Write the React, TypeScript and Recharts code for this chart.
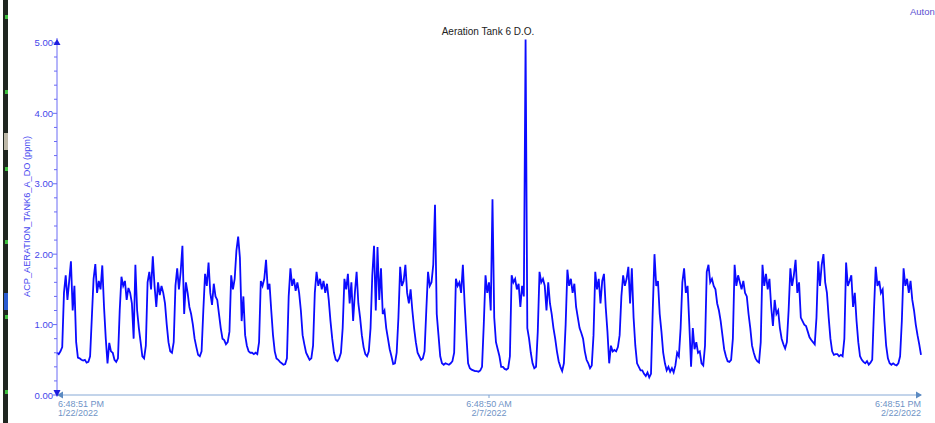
import React from "react";
import { LineChart, Line, XAxis, YAxis } from "recharts";

// dissolved oxygen, one reading every 1.5 h from 1/22/2022 6:48:51 PM
const week1 = [
  0.6, 0.58, 0.62, 0.68, 1.45, 1.7, 1.35, 1.62, 1.9, 1.2, 1.55, 0.75, 0.53, 0.52, 0.5, 0.49,
  0.5, 0.46, 0.47, 0.55, 1.1, 1.65, 1.86, 1.45, 1.62, 1.5, 1.84, 1.25, 0.8, 0.45, 0.74, 0.62,
  0.6, 0.5, 0.47, 0.52, 1.2, 1.68, 1.55, 1.62, 1.35, 1.52, 1.45, 1.3, 0.8, 1.85, 1.2, 0.95,
  0.75, 0.55, 0.52, 0.7, 1.6, 1.75, 1.5, 1.97, 1.55, 1.25, 1.6, 1.42, 1.55, 1.45, 1.3, 1.0,
  0.75, 0.62, 0.6, 0.75, 1.55, 1.8, 1.5, 1.75, 2.12, 1.15, 1.6, 1.45, 1.25, 1.15, 1.0, 0.8,
  0.68, 0.57, 0.55, 0.62, 1.2, 1.72, 1.55, 1.88, 1.45, 1.28, 1.58, 1.4, 1.35, 1.15, 0.95, 0.8,
  0.78, 0.72, 0.75, 0.9, 1.7, 1.5, 1.65, 2.05, 2.25, 1.95, 1.05, 1.4, 0.85, 0.7, 0.62, 0.6,
];
const week2 = [
  0.6, 0.58, 0.6, 0.58, 0.75, 1.62, 1.55, 1.65, 1.92, 1.5, 1.58, 1.2, 0.85, 0.62, 0.52, 0.5,
  0.47, 0.45, 0.43, 0.44, 0.52, 1.4, 1.8, 1.55, 1.65, 1.48, 1.6, 1.45, 1.2, 0.85, 0.72, 0.6,
  0.55, 0.5, 0.52, 0.7, 1.45, 1.75, 1.55, 1.65, 1.5, 1.62, 1.45, 1.58, 1.35, 1.05, 0.8, 0.6,
  0.5, 0.48, 0.52, 0.6, 0.95, 1.65, 1.5, 1.72, 1.3, 1.6, 1.05, 1.45, 1.75, 1.3, 1.1, 0.85,
  0.68, 0.58, 0.55, 0.62, 0.95, 1.7, 2.12, 1.2, 2.1, 1.35, 1.8, 1.15, 1.2, 0.95, 0.8, 0.65,
  0.55, 0.44, 0.45, 0.6, 1.1, 1.82, 1.55, 1.62, 1.85, 1.45, 1.3, 1.5, 1.2, 0.95, 0.75, 0.6,
  0.55, 0.5, 0.52, 0.62, 1.2, 1.75, 1.55, 1.6, 1.85, 2.7, 1.15, 0.85, 0.55, 0.45, 0.43, 0.45,
];
const week3 = [
  0.44, 0.43, 0.45, 0.48, 0.6, 1.65, 1.55, 1.6, 1.45, 1.85, 1.3, 0.85, 0.45, 0.38, 0.36, 0.35,
  0.34, 0.34, 0.33, 0.35, 0.4, 1.0, 1.7, 1.45, 1.6, 1.2, 2.78, 1.1, 0.75, 0.65, 0.55, 0.4,
  0.4, 0.37, 0.36, 0.38, 0.55, 1.7, 1.6, 1.65, 1.5, 1.58, 1.25, 1.55, 1.4, 5.05, 0.95, 0.8,
  0.6, 0.45, 0.38, 0.4, 0.9, 1.75, 1.6, 1.65, 1.55, 1.2, 1.6, 1.3, 1.15, 0.95, 0.8, 0.62,
  0.48, 0.4, 0.34, 0.45, 1.0, 1.78, 1.55, 1.65, 1.45, 1.58, 1.25, 1.1, 0.95, 0.88, 0.8, 0.62,
  0.5, 0.45, 0.38, 0.42, 0.85, 1.75, 1.5, 1.65, 1.3, 1.62, 1.72, 1.25, 0.9, 0.45, 0.7, 0.62,
  0.64, 0.62, 0.68, 0.85, 1.4, 1.7, 1.55, 1.65, 1.82, 1.3, 1.8, 1.1, 0.7, 0.45, 0.4, 0.35,
];
const week4 = [
  0.35, 0.3, 0.27, 0.32, 0.25, 0.3, 1.2, 2.0, 1.55, 1.62, 1.15, 0.9, 0.6, 0.45, 0.35, 0.4,
  0.33, 0.38, 0.32, 0.42, 0.6, 0.55, 0.95, 1.6, 1.8, 1.45, 1.55, 1.0, 0.4, 0.95, 0.65, 0.75,
  0.6, 0.62, 0.45, 0.42, 0.7, 1.75, 1.85, 1.6, 1.65, 1.55, 1.5, 1.3, 1.2, 1.05, 0.85, 0.65,
  0.55, 0.48, 0.47, 0.5, 0.8, 1.85, 1.55, 1.7, 1.6, 1.5, 1.62, 1.45, 1.4, 1.15, 0.95, 0.7,
  0.6, 0.52, 0.48, 0.46, 0.75, 1.85, 1.55, 1.72, 1.5, 1.65, 1.25, 0.98, 1.35, 1.15, 1.2, 0.95,
  0.8, 0.72, 0.66, 0.75, 1.2, 1.8, 1.55, 1.7, 1.92, 1.45, 1.6, 1.1, 1.05, 1.0, 0.98, 0.9,
  0.82, 0.78, 0.75, 0.72, 1.1, 1.9, 1.55, 1.85, 2.0, 1.6, 1.45, 1.1, 0.8, 0.62, 0.57, 0.58,
];
const week5 = [
  0.58, 0.55, 0.57, 0.55, 0.8, 1.88, 1.55, 1.62, 1.7, 1.25, 1.45, 1.05, 0.75, 0.55, 0.5, 0.47,
  0.45, 0.48, 0.43, 0.46, 0.5, 1.2, 1.82, 1.55, 1.62, 1.45, 1.5, 1.05, 0.7, 0.52, 0.45, 0.43,
  0.45, 0.43, 0.42, 0.45, 0.55, 1.05, 1.8, 1.55, 1.65, 1.45, 1.62, 1.35, 1.2, 1.0, 0.85, 0.72, 0.57,
];

const stepHours = 1.5;
const xTicks = [0, 372, 744];
const xTickTime = ["6:48:51 PM", "6:48:50 AM", "6:48:51 PM"];
const xTickDate = ["1/22/2022", "2/7/2022", "2/22/2022"];
const yTicks = [0, 0.2, 0.4, 0.6, 0.8, 1, 1.2, 1.4, 1.6, 1.8, 2, 2.2, 2.4, 2.6, 2.8, 3, 3.2, 3.4, 3.6, 3.8, 4, 4.2, 4.4, 4.6, 4.8, 5];

const readings = [...week1, ...week2, ...week3, ...week4, ...week5];
const data = readings.map((v, i) => ({ h: i * stepHours, v }));

const font = "'Liberation Sans', Arial, sans-serif";

const YTick = (props: any) => {
  const { x, y, payload } = props;
  const v = payload.value;
  const major = Math.abs(v - Math.round(v)) < 0.001;
  return (
    <g>
      <line x1={x - (major ? 4 : 3)} x2={x} y1={y} y2={y} stroke="#6a6af5" />
      {major && (
        <text x={x - 4} y={y + 3.5} textAnchor="end" fontSize={9.5} fontFamily={font} fill="#4545ea">
          {v.toFixed(2)}
        </text>
      )}
      {v === 5 && <path d={`M${x - 3.5},${y + 2} L${x},${y - 4} L${x + 3.5},${y + 2} Z`} fill="#1d1de0" />}
      {v === 0 && <path d={`M${x - 3.5},${y - 5} L${x},${y + 2} L${x + 3.5},${y - 5} Z`} fill="#1d1de0" />}
    </g>
  );
};

const XTick = (props: any) => {
  const { x, y, index } = props;
  const anchor = index === 0 ? "start" : index === xTicks.length - 1 ? "end" : "middle";
  const tx = index === 0 ? x + 1 : x;
  return (
    <g>
      {index === 0 && <path d={`M${x},${y} L${x + 6},${y - 3.5} L${x + 6},${y + 3.5} Z`} fill="#5b8ac2" />}
      {index === xTicks.length - 1 && <path d={`M${x + 1},${y} L${x - 5},${y - 3.5} L${x - 5},${y + 3.5} Z`} fill="#5b8ac2" />}
      {index > 0 && index < xTicks.length - 1 && <line x1={x} x2={x} y1={y} y2={y + 3} stroke="#7fa3d2" />}
      <text x={tx} y={y + 12} textAnchor={anchor} fontSize={9} fontFamily={font} fill="#6f93c6">
        {xTickTime[index]}
      </text>
      <text x={tx} y={y + 21} textAnchor={anchor} fontSize={9} fontFamily={font} fill="#6f93c6">
        {xTickDate[index]}
      </text>
    </g>
  );
};

export default function App() {
  return (
    <div style={{ position: "fixed", left: 0, top: 0, width: 935, height: 423, background: "#fff", overflow: "hidden" }}>
      {/* sliver of the neighbouring window on the left */}
      <div style={{ position: "absolute", left: 3, top: 0, width: 5, height: 423, background: "#1f2620" }} />
      {[15, 90, 167, 240, 315, 390].map((t) => (
        <div key={t} style={{ position: "absolute", left: 5, top: t, width: 3, height: 4, background: "#3fbf3f" }} />
      ))}
      <div style={{ position: "absolute", left: 4, top: 293, width: 4, height: 17, background: "#2a5bd0" }} />
      <div style={{ position: "absolute", left: 4, top: 133, width: 4, height: 17, background: "#bdb8a8" }} />

      <div style={{ position: "absolute", left: 910, top: 6, fontFamily: font, fontSize: 9.5, color: "#5a4fd0", whiteSpace: "nowrap" }}>
        Auton
      </div>
      <div style={{ position: "absolute", left: 0, width: 976, top: 26, textAlign: "center", fontFamily: font, fontSize: 10, color: "#222" }}>
        Aeration Tank 6 D.O.
      </div>

      <LineChart width={935} height={423} data={data} margin={{ top: 38, right: 14, bottom: 0, left: 0 }}>
        <XAxis
          dataKey="h"
          type="number"
          domain={[0, 744]}
          ticks={xTicks}
          tick={<XTick />}
          tickSize={0}
          tickMargin={0}
          tickLine={false}
          height={28}
          axisLine={{ stroke: "#86a9d6" }}
          interval={0}
        />
        <YAxis
          type="number"
          domain={[0, 5.07]}
          ticks={yTicks}
          tick={<YTick />}
          tickSize={0}
          tickMargin={0}
          tickLine={false}
          width={57}
          interval={0}
          axisLine={{ stroke: "#6a6af5" }}
          label={{
            value: "ACP_AERATION_TANK6_A_DO (ppm)",
            angle: -90,
            position: "center",
            dx: -2,
            style: { fontSize: 9.2, fontFamily: font, fill: "#4a4af0" },
          }}
        />
        <Line type="linear" dataKey="v" stroke="#0b0bff" strokeWidth={1.8} dot={false} isAnimationActive={false} />
      </LineChart>
    </div>
  );
}
